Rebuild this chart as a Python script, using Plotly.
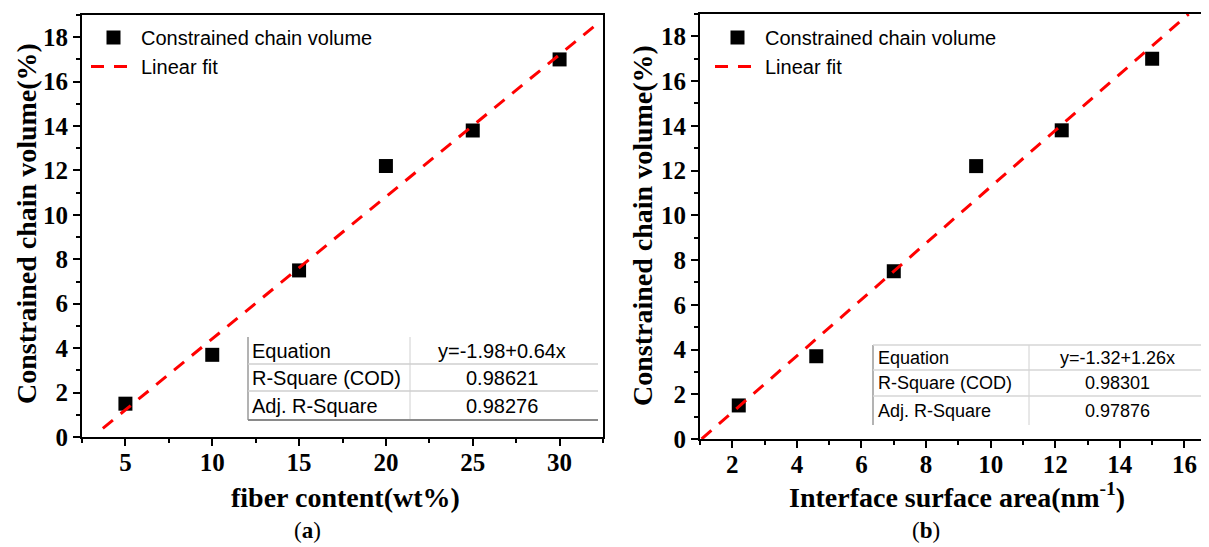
import plotly.graph_objects as go

# ---------------- data ----------------
fiber_content = [5, 10, 15, 20, 25, 30]
interface_area = [2.2, 4.6, 7.0, 9.55, 12.2, 15.0]
chain_volume = [1.5, 3.7, 7.5, 12.2, 13.8, 17.0]

fit_a_x = [3.7, 32.1]
fit_a_y = [0.39, 18.56]
fit_b_x = [1.05, 16.13]
fit_b_y = [0.0, 19.0]

y_ticks = [0, 2, 4, 6, 8, 10, 12, 14, 16, 18]
xa_ticks = [5, 10, 15, 20, 25, 30]
xb_ticks = [2, 4, 6, 8, 10, 12, 14, 16]

table_labels = ["Equation", "R-Square (COD)", "Adj. R-Square"]
table_a_values = ["y=-1.98+0.64x", "0.98621", "0.98276"]
table_b_values = ["y=-1.32+1.26x", "0.98301", "0.97876"]

# the page body has an 8px margin, so the figure is offset by 8px
OFF = 8
W, H = 1209 - OFF, 547 - OFF


def px(x):
    return (x - OFF) / W


def py(y):
    return 1 - (y - OFF) / H


def bold(vals):
    return ["<b>%g</b>" % v for v in vals]


SERIF = "Liberation Serif"
SANS = "Liberation Sans"

fig = go.Figure()

# panel (a)
fig.add_trace(go.Scatter(x=fiber_content, y=chain_volume, mode="markers",
                         name="Constrained chain volume",
                         marker=dict(symbol="square", size=14, color="black"),
                         xaxis="x", yaxis="y", legend="legend"))
fig.add_trace(go.Scatter(x=fit_a_x, y=fit_a_y, mode="lines", name="Linear fit",
                         line=dict(color="#ff0000", width=3, dash="13px,10px"),
                         xaxis="x", yaxis="y", legend="legend"))
# panel (b)
fig.add_trace(go.Scatter(x=interface_area, y=chain_volume, mode="markers",
                         name="Constrained chain volume",
                         marker=dict(symbol="square", size=14, color="black"),
                         xaxis="x2", yaxis="y2", legend="legend2"))
fig.add_trace(go.Scatter(x=fit_b_x, y=fit_b_y, mode="lines", name="Linear fit",
                         line=dict(color="#ff0000", width=3, dash="13px,10px"),
                         xaxis="x2", yaxis="y2", legend="legend2"))

tickfont = dict(family=SERIF, size=25, color="black", weight="bold")
common = dict(showgrid=False, zeroline=False, showline=True, linecolor="black",
              linewidth=2, ticks="outside", ticklen=7, tickwidth=2,
              tickcolor="black", tickfont=tickfont, automargin=False,
              tickmode="array")
minor = dict(ticks="outside", ticklen=4, tickwidth=1.5, tickcolor="black")

fig.update_layout(
    template="none",
    width=W, height=H,
    margin=dict(l=0, r=0, t=0, b=0, autoexpand=False),
    paper_bgcolor="white", plot_bgcolor="white",
    showlegend=True,
    xaxis=dict(domain=[px(82), px(603)], range=[2.5, 32.5],
               tickvals=xa_ticks, ticktext=bold(xa_ticks), mirror=True, anchor="y",
               ticklabelstandoff=-5,
               minor=dict(dtick=2.5, tick0=2.5, **minor), **common),
    yaxis=dict(domain=[py(437), py(15)], range=[0, 19],
               tickvals=y_ticks, ticktext=bold(y_ticks), mirror=True, anchor="x",
               minor=dict(dtick=1, tick0=0, **minor), **common),
    xaxis2=dict(domain=[px(700), 1.0], range=[1, 16.76],
                tickvals=xb_ticks, ticktext=bold(xb_ticks), mirror=True, anchor="y2",
                ticklabelstandoff=-5,
                minor=dict(dtick=1, tick0=1, **minor), **common),
    yaxis2=dict(domain=[py(439), py(14)], range=[0, 19],
                tickvals=y_ticks, ticktext=bold(y_ticks), mirror=False, anchor="x2",
                minor=dict(dtick=1, tick0=0, **minor), **common),
    legend=dict(x=px(86), y=py(18), xanchor="left", yanchor="top",
                bgcolor="rgba(0,0,0,0)", font=dict(family=SANS, size=20, color="black"),
                tracegroupgap=0, itemwidth=45),
    legend2=dict(x=px(710), y=py(18), xanchor="left", yanchor="top",
                 bgcolor="rgba(0,0,0,0)", font=dict(family=SANS, size=20, color="black"),
                 tracegroupgap=0, itemwidth=45),
)

annotations = []
shapes = []


def text(t, x, y, size, family, xanchor="center", angle=0):
    annotations.append(dict(text=t, x=px(x), y=py(y), xref="paper", yref="paper",
                            xanchor=xanchor, yanchor="middle", showarrow=False,
                            textangle=angle,
                            font=dict(family=family, size=size, color="black")))


# axis titles
text("<b>Constrained chain volume(%)</b>", 26, 224, 28, SERIF, angle=-90)
text("<b>Constrained chain volume(%)</b>", 643, 226, 28, SERIF, angle=-90)
text("<b>fiber content(wt%)</b>", 345, 497, 28, SERIF)
text("<b>Interface surface area(nm<sup>-1</sup>)</b>", 957, 495, 28, SERIF)
text("(<b>a</b>)", 307, 530, 23, SERIF)
text("(<b>b</b>)", 926, 530, 23, SERIF)


def line(x0, y0, x1, y1, color, width):
    shapes.append(dict(type="line", xref="paper", yref="paper",
                       x0=px(x0), y0=py(y0), x1=px(x1), y1=py(y1),
                       line=dict(color=color, width=width)))


# table (a)
ta_left, ta_div, ta_right = 248, 410, 598
ta_rows = [337, 364, 391, 420]
line(ta_left, ta_rows[0], ta_left, ta_rows[-1], "#9a9a9a", 1.5)
line(ta_div, ta_rows[0], ta_div, ta_rows[-1], "#d0d0d0", 1)
for yy in ta_rows[1:-1]:
    line(ta_left, yy, ta_right, yy, "#cfcfcf", 1.5)
line(ta_left, ta_rows[-1], ta_right, ta_rows[-1], "#8a8a8a", 2)
for i in range(3):
    yc = (ta_rows[i] + ta_rows[i + 1]) / 2
    text(table_labels[i], 250, yc, 20, SANS, xanchor="left")
    text(table_a_values[i], 502, yc, 20, SANS)

# table (b)
tb_left, tb_div, tb_right = 873, 1029, 1209
tb_rows = [345, 370, 396, 425]
line(tb_left, tb_rows[0], tb_left, tb_rows[-1], "#9a9a9a", 1.5)
line(tb_div, tb_rows[0], tb_div, tb_rows[-1], "#d0d0d0", 1)
for yy in tb_rows[:-1]:
    line(tb_left, yy, tb_right, yy, "#d6d6d6", 1.5)
for i in range(3):
    yc = (tb_rows[i] + tb_rows[i + 1]) / 2
    text(table_labels[i], 876, yc, 18, SANS, xanchor="left")
    text(table_b_values[i], 1117, yc, 18, SANS)

fig.update_layout(annotations=annotations, shapes=shapes)
fig.write_html("out.html")
